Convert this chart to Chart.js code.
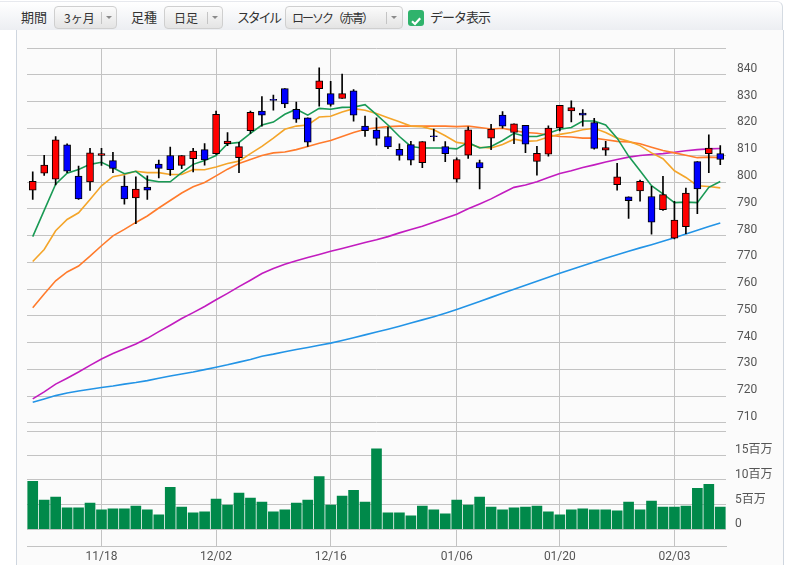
<!DOCTYPE html>
<html>
<head>
<meta charset="utf-8">
<script src="https://cdn.jsdelivr.net/npm/chart.js@4.4.1/dist/chart.umd.min.js"></script>
<style>
body { margin: 0; background: #fff; font-family: "Noto Sans CJK JP", sans-serif; width: 793px; height: 565px; overflow: hidden; position: relative; }
#head { position: absolute; left: 0; top: 1px; width: 782px; height: 28px; background: linear-gradient(#ffffff, #eceef2); border-top: 1px solid #e7e9ee; border-right: 1px solid #d5dbe2; border-top-right-radius: 6px; }
.lab { position: absolute; top: 5px; font-size: 13px; color: #333; line-height: 20px; white-space: nowrap; }
.sel { position: absolute; top: 4px; height: 21px; border: 1px solid #cfcfcf; border-radius: 4px; background: linear-gradient(#fbfbfb, #e4e4e4); font-size: 12px; color: #333; line-height: 21px; white-space: nowrap; }
.sel .t { position: absolute; left: 9px; }
.sel .s { position: absolute; top: 5px; width: 1px; height: 12px; background: #c4c4c4; }
.sel .a { position: absolute; top: 9px; width: 0; height: 0; border-left: 3px solid transparent; border-right: 3px solid transparent; border-top: 3px solid #8a8a8a; }
#chk { position: absolute; left: 408px; top: 8px; width: 16px; height: 16px; border-radius: 3px; background: #2fb36c; }
#panel { position: absolute; left: 16px; top: 30px; width: 766px; height: 535px; background: #fbfbfb; border-left: 1px solid #cfd6df; border-right: 1px solid #cfd6df; }
#wrap { position: absolute; left: 17px; top: 30px; width: 766px; height: 535px; }
</style>
</head>
<body>
<div id="head">
  <span class="lab" style="left:21px">期間</span>
  <div class="sel" style="left:54px;width:61px"><span class="t">3ヶ月</span><span class="s" style="left:46px"></span><span class="a" style="left:51px"></span></div>
  <span class="lab" style="left:131px">足種</span>
  <div class="sel" style="left:164px;width:57px"><span class="t">日足</span><span class="s" style="left:42px"></span><span class="a" style="left:47px"></span></div>
  <span class="lab" style="left:237px;letter-spacing:-2.3px">スタイル</span>
  <div class="sel" style="left:285px;width:116px"><span class="t" style="left:6px;letter-spacing:-2px">ローソク（赤青）</span><span class="s" style="left:100px"></span><span class="a" style="left:105px"></span></div>
  <div id="chk"><svg width="16" height="16"><path d="M4 8.2 L7 11 L12.2 5.2" stroke="#fff" stroke-width="2.2" fill="none"/></svg></div>
  <span class="lab" style="left:430px;letter-spacing:-1px">データ表示</span>
</div>
<div id="panel"></div>
<div id="wrap"><canvas id="c" width="766" height="535"></canvas></div>
<script>
const dates = ['11/08','11/11','11/12','11/13','11/14','11/15','11/18','11/19','11/20','11/21','11/22','11/25','11/26','11/27','11/28','11/29',
  '12/02','12/03','12/04','12/05','12/06','12/09','12/10','12/11','12/12','12/13','12/16','12/17','12/18','12/19','12/20','12/23','12/24','12/25','12/26','12/27','12/30',
  '01/06','01/07','01/08','01/09','01/10','01/14','01/15','01/16','01/17','01/20','01/21','01/22','01/23','01/24','01/27','01/28','01/29','01/30','01/31',
  '02/03','02/04','02/05','02/06','02/07'];
const dateTicks = ['11/18', '12/02', '12/16', '01/06', '01/20', '02/03'];

const opens = [797.0, 803.3, 801.1, 813.9, 802.2, 800.0, 809.9, 808.0, 798.5, 794.1, 798.1, 806.7, 809.9, 806.2, 808.7, 812.1,
  810.6, 814.3, 809.1, 819.2, 826.5, 830.9, 834.9, 827.2, 824.0, 834.9, 833.0, 831.2, 834.1, 820.9, 819.4, 817.0,
  812.2, 814.0, 807.2, 817.3, 813.2, 801.1, 810.0, 807.3, 816.4, 825.0, 818.5, 821.2, 807.7, 810.4, 820.2,
  826.6, 825.8, 822.2, 811.9, 799.0, 794.5, 796.7, 794.6, 789.7, 779.0, 783.3, 807.6, 810.6, 810.6];
const highs = [803.8, 810.0, 817.0, 814.3, 806.0, 812.6, 812.6, 811.1, 802.3, 801.9, 802.3, 808.2, 813.1, 809.9, 812.6, 814.4,
  826.5, 818.5, 814.8, 826.5, 831.9, 832.5, 834.9, 829.9, 824.0, 842.7, 837.6, 840.3, 834.5, 824.6, 824.0, 820.5,
  814.3, 815.2, 815.1, 819.8, 815.1, 809.0, 820.6, 808.2, 821.6, 826.3, 821.7, 821.2, 813.3, 821.0, 828.7,
  830.3, 827.1, 823.8, 815.2, 807.0, 794.5, 800.7, 798.4, 802.1, 792.8, 797.7, 807.6, 817.6, 813.6];
const lows = [793.5, 802.5, 798.9, 803.5, 793.5, 796.9, 806.2, 803.5, 791.7, 784.4, 793.5, 801.5, 802.5, 805.0, 803.8, 806.3,
  810.3, 813.6, 803.5, 818.2, 820.9, 826.8, 827.8, 822.3, 813.3, 828.3, 828.3, 831.2, 822.7, 817.0, 813.8, 812.5,
  808.2, 806.4, 805.4, 815.4, 807.6, 799.9, 808.8, 797.4, 812.1, 820.1, 814.3, 811.0, 802.6, 809.7, 819.1,
  822.5, 820.9, 812.3, 809.9, 797.0, 786.4, 792.8, 780.5, 789.4, 778.7, 780.7, 788.2, 803.5, 806.5];
const closes = [800.3, 806.3, 815.8, 804.1, 793.7, 810.9, 810.6, 805.1, 793.7, 797.4, 797.0, 805.1, 804.6, 809.9, 811.6, 808.3,
  825.3, 815.3, 813.2, 826.0, 825.0, 830.5, 829.2, 823.5, 814.9, 837.8, 829.0, 833.0, 825.0, 819.2, 816.3, 813.1,
  809.9, 808.2, 815.1, 816.9, 810.6, 808.4, 819.5, 805.3, 819.8, 820.9, 821.7, 814.1, 810.7, 820.2, 828.7,
  827.8, 825.0, 812.6, 812.9, 801.9, 793.0, 800.3, 785.0, 795.3, 785.8, 795.9, 797.4, 812.7, 808.4];

// 出来高（百万株）
const volumes = [9.7, 5.9, 6.5, 4.3, 4.3, 5.3, 3.9, 4.1, 4.1, 4.7, 3.9, 2.9, 8.5, 4.5, 3.3, 3.5,
  6.1, 4.9, 7.3, 6.3, 5.5, 3.5, 3.9, 5.3, 5.9, 10.7, 4.9, 6.7, 7.9, 5.5, 16.3, 3.3,
  3.3, 2.7, 4.7, 3.9, 3.1, 5.9, 4.9, 6.5, 4.5, 3.9, 4.3, 4.5, 4.7, 3.5, 2.9, 3.9,
  4.1, 3.9, 3.9, 3.7, 5.5, 3.9, 5.7, 4.5, 4.5, 4.7, 8.3, 9.1, 4.5];

// 移動平均線
const maGreen = [779.6, 789.4, 799.2, 803.3, 804.7, 806.6, 807.4, 805.3, 803.1, 804.0, 800.8, 800.1, 800.1, 803.5, 806.6, 808.0,
  809.9, 814.3, 814.8, 818.2, 821.3, 822.4, 825.3, 827.2, 825.0, 827.5, 827.2, 827.9, 828.0, 828.9, 825.2, 821.3,
  817.0, 813.3, 812.7, 812.7, 812.7, 812.4, 814.8, 812.7, 813.3, 815.5, 818.2, 817.0, 817.0, 818.2, 819.7,
  820.4, 822.8, 822.8, 821.3, 816.4, 809.7, 804.2, 798.6, 795.6, 792.3, 792.5, 792.3, 798.0, 800.2];
const maYellow = [770.3, 774.8, 781.8, 786.0, 788.5, 793.5, 798.6, 802.0, 802.8, 804.0, 803.5, 803.5, 802.8, 802.8, 804.7, 804.6,
  805.6, 806.9, 807.8, 810.6, 813.3, 816.4, 819.7, 820.9, 821.3, 824.3, 824.6, 826.2, 827.4, 826.8, 825.6, 824.0,
  822.5, 820.9, 820.7, 819.5, 817.3, 814.8, 814.2, 813.0, 812.7, 814.0, 816.0, 815.2, 815.4, 816.8, 817.8,
  818.5, 819.5, 820.1, 818.5, 816.4, 815.2, 813.6, 810.9, 808.7, 804.2, 801.7, 798.6, 798.3, 797.8];
const maOrange = [753.0, 758.2, 763.1, 766.4, 768.6, 772.3, 776.2, 779.9, 782.3, 784.9, 787.3, 790.3, 793.1, 795.9, 798.2, 799.8,
  802.3, 804.8, 806.9, 808.4, 809.9, 810.9, 811.2, 812.1, 813.3, 814.5, 815.5, 817.0, 818.5, 819.7, 820.3, 820.7,
  820.9, 820.9, 820.9, 820.9, 820.9, 820.7, 820.9, 820.4, 819.8, 820.1, 819.2, 818.5, 818.2, 817.6, 817.0,
  816.8, 816.4, 816.4, 815.8, 815.2, 815.0, 814.3, 813.0, 811.8, 810.9, 810.0, 809.1, 809.3, 809.1];
const maPurple = [719.0, 721.6, 724.5, 726.7, 729.0, 731.5, 733.9, 735.9, 737.7, 739.5, 741.6, 744.1, 746.5, 749.0, 751.2, 753.5,
  756.0, 758.4, 760.9, 763.3, 765.8, 767.7, 769.3, 770.6, 771.8, 772.9, 774.1, 775.2, 776.3, 777.4, 778.4, 779.6,
  781.0, 782.3, 783.5, 785.0, 786.5, 788.0, 790.0, 791.8, 793.7, 795.9, 798.0, 798.9, 800.1, 801.7, 803.2,
  804.2, 805.4, 806.4, 807.5, 808.4, 809.3, 809.9, 810.3, 810.6, 811.1, 811.7, 812.1, 812.4, 812.5];
const maBlue = [717.7, 718.9, 720.2, 721.2, 721.9, 722.6, 723.2, 723.8, 724.5, 725.1, 725.8, 726.7, 727.5, 728.3, 729.0, 729.9,
  730.8, 731.7, 732.7, 733.7, 734.9, 735.7, 736.6, 737.4, 738.2, 739.0, 739.8, 740.8, 741.8, 742.9, 744.0, 745.0,
  746.1, 747.3, 748.5, 749.7, 751.0, 752.4, 753.9, 755.4, 756.9, 758.4, 759.9, 761.4, 762.9, 764.4, 765.9,
  767.3, 768.7, 770.1, 771.5, 772.8, 774.1, 775.4, 776.6, 777.9, 779.2, 780.6, 782.0, 783.4, 784.7];

const priceTicks = [710, 720, 730, 740, 750, 760, 770, 780, 790, 800, 810, 820, 830, 840];
const volumeTicks = [0, 5, 10, 15];

const gridColor = '#c3c3c3';
const labelFont = { family: 'Roboto, "Noto Sans CJK JP", sans-serif', size: 12 };

function maLine(data, color) {
    return {
        type: 'line',
        data: data,
        yAxisID: 'y',
        borderColor: color,
        borderWidth: 1.6,
        pointRadius: 0,
        tension: 0,
        order: 2
    };
}

new Chart(document.getElementById('c'), {
    data: {
        labels: dates,
        datasets: [
            {
                type: 'bar',
                data: dates.map((d, i) => [opens[i], closes[i]]),
                yAxisID: 'y',
                backgroundColor: dates.map((d, i) => closes[i] >= opens[i] ? '#ff0000' : '#0000ff'),
                borderColor: '#000',
                borderWidth: 1,
                borderSkipped: false,
                barThickness: 7,
                grouped: false,
                order: 0
            },
            {
                type: 'bar',
                data: dates.map((d, i) => [lows[i], highs[i]]),
                yAxisID: 'y',
                backgroundColor: '#000',
                barThickness: 1,
                grouped: false,
                order: 1
            },
            maLine(maGreen, '#1a9a55'),
            maLine(maYellow, '#f4a52a'),
            maLine(maOrange, '#ff7b2c'),
            maLine(maPurple, '#c21cbf'),
            maLine(maBlue, '#2394e6'),
            {
                type: 'bar',
                data: volumes,
                yAxisID: 'yv',
                backgroundColor: '#00894a',
                barThickness: 10,
                grouped: false,
                order: 3
            }
        ]
    },
    options: {
        responsive: false,
        animation: false,
        layout: { padding: { left: 10, top: 10, right: 0, bottom: 0 } },
        plugins: { legend: { display: false }, tooltip: { enabled: false } },
        scales: {
            x: {
                type: 'category',
                offset: true,
                grid: {
                    offset: false,
                    drawTicks: false,
                    color: ctx => dateTicks.includes(dates[ctx.index]) ? gridColor : 'rgba(0,0,0,0)'
                },
                border: { display: true, color: gridColor },
                ticks: {
                    autoSkip: false,
                    maxRotation: 0,
                    padding: 3,
                    color: '#555',
                    font: labelFont,
                    callback: (v, i) => dateTicks.includes(dates[i]) ? dates[i] : ''
                },
                afterFit: s => { s.height = 18; }
            },
            y: {
                position: 'right',
                stack: 'main',
                stackWeight: 390,
                min: 706.7,
                max: 850,
                afterBuildTicks: s => { s.ticks = priceTicks.concat([850]).map(v => ({ value: v })); },
                grid: { color: gridColor, drawTicks: false },
                border: { display: false },
                ticks: {
                    autoSkip: false,
                    padding: 11,
                    labelOffset: -6,
                    color: '#555',
                    font: labelFont,
                    callback: v => priceTicks.includes(v) ? String(v) : ''
                },
                afterFit: s => { s.width = 57; }
            },
            yv: {
                position: 'right',
                stack: 'main',
                stackWeight: 117,
                min: -3.6,
                max: 19.8,
                afterBuildTicks: s => { s.ticks = volumeTicks.concat([19.8]).map(v => ({ value: v })); },
                grid: { color: gridColor, drawTicks: false },
                border: { display: false },
                ticks: {
                    autoSkip: false,
                    padding: 9,
                    labelOffset: -5,
                    color: '#555',
                    font: labelFont,
                    callback: v => volumeTicks.includes(v) ? (v === 0 ? '0' : v + '百万') : ''
                },
                afterFit: s => { s.width = 57; }
            }
        }
    }
});
</script>
</body>
</html>
